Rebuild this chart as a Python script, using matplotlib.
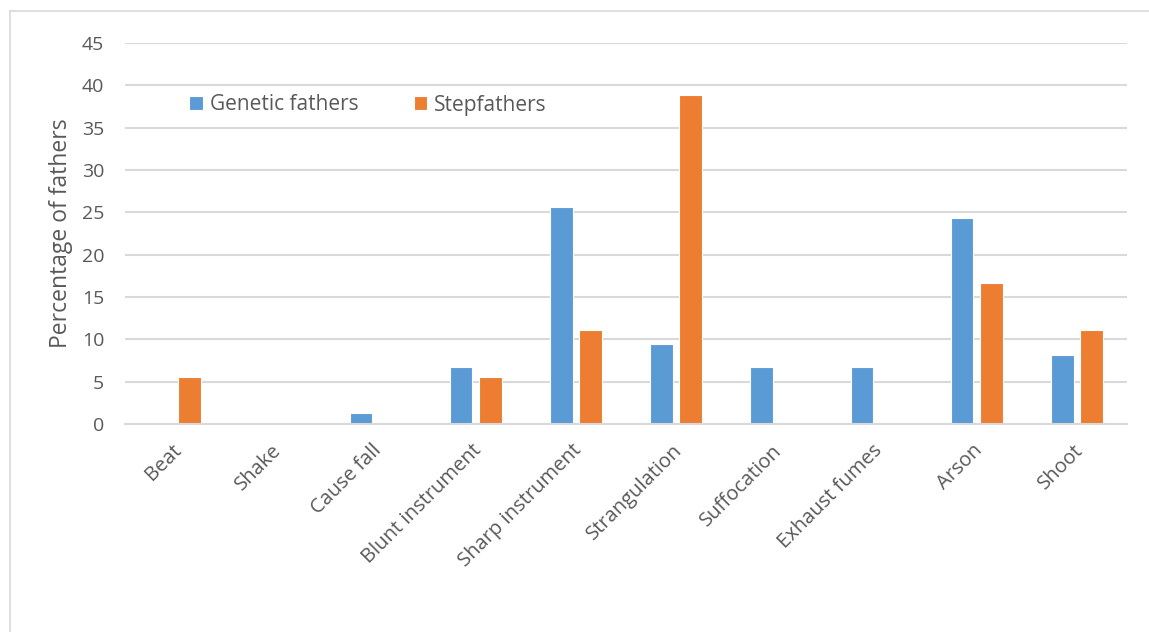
import matplotlib
matplotlib.use("Agg")
import matplotlib.pyplot as plt
from matplotlib.lines import Line2D
from matplotlib.transforms import ScaledTranslation
import numpy as np

plt.rcParams['font.family'] = ['Open Sans', 'DejaVu Sans']

categories = ["Beat", "Shake", "Cause fall", "Blunt instrument", "Sharp instrument",
              "Strangulation", "Suffocation", "Exhaust fumes", "Arson", "Shoot"]
genetic_fathers = [0, 0, 1.35, 6.76, 25.68, 9.46, 6.76, 6.76, 24.32, 8.11]
stepfathers = [5.56, 0, 0, 5.56, 11.11, 38.89, 0, 0, 16.67, 11.11]
y_ticks = [0, 5, 10, 15, 20, 25, 30, 35, 40, 45]

blue = "#5B9BD5"
orange = "#ED7D31"
text_gray = "#595959"
grid_gray = "#D9D9D9"

W, H = 1149, 632
fig = plt.figure(figsize=(W / 100, H / 100), dpi=100)
ax = fig.add_axes([125 / W, 1 - 424 / H, (1127 - 125) / W, (424 - 43) / H])

x = np.arange(len(categories))
bw = 0.225
off = 0.145
ax.bar(x - off, genetic_fathers, width=bw, color=blue, edgecolor="white",
       linewidth=0.8, label="Genetic fathers", zorder=3)
ax.bar(x + off, stepfathers, width=bw, color=orange, edgecolor="white",
       linewidth=0.8, label="Stepfathers", zorder=3)

ax.set_xlim(-0.5, len(categories) - 0.5)
ax.set_ylim(0, 45)
ax.set_yticks(y_ticks)
ax.yaxis.grid(True, color=grid_gray, linewidth=1.5, zorder=0)
ax.set_axisbelow(True)
for s in ["top", "right", "left"]:
    ax.spines[s].set_visible(False)
ax.spines["bottom"].set_color(grid_gray)
ax.spines["bottom"].set_linewidth(1.5)
ax.spines["bottom"].set_zorder(4)

ax.tick_params(axis="y", length=0, pad=15, labelsize=14, labelcolor=text_gray)
ax.tick_params(axis="x", length=0, pad=12, labelsize=14.5, labelcolor=text_gray)
ax.set_xticks(x)
ax.set_xticklabels(categories, rotation=45, ha="right", va="top",
                   rotation_mode="anchor")
shift = ScaledTranslation(-0.04, 0, fig.dpi_scale_trans)
for lbl in ax.get_xticklabels():
    lbl.set_transform(lbl.get_transform() + shift)

ax.set_ylabel("Percentage of fathers", fontsize=16.5, color=text_gray, labelpad=6)

ax.legend(loc="center", bbox_to_anchor=((368 - 125) / (1127 - 125), (424 - 105) / (424 - 43)),
          ncol=2, frameon=False, fontsize=15, labelcolor=text_gray,
          handlelength=0.65, handleheight=0.65, handletextpad=0.33, columnspacing=2.65)

# thin chart-area border along top and left
fig.add_artist(Line2D([10 / W, 1], [1 - 11 / H, 1 - 11 / H], color=grid_gray, lw=1.2,
                      transform=fig.transFigure))
fig.add_artist(Line2D([10 / W, 10 / W], [0, 1 - 11 / H], color=grid_gray, lw=1.2,
                      transform=fig.transFigure))

fig.savefig("out.png", dpi=100)
